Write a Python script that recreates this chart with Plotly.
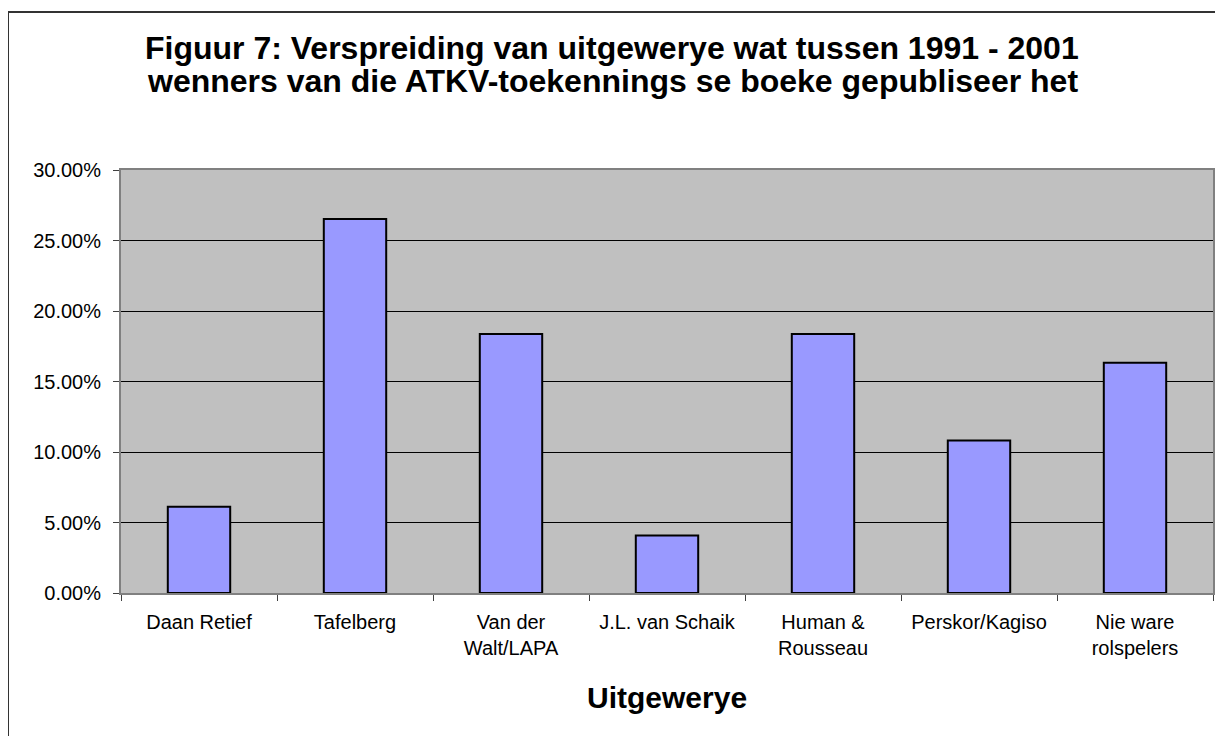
import plotly.graph_objects as go

categories = ["Daan Retief", "Tafelberg", "Van der<br>Walt/LAPA", "J.L. van Schaik",
              "Human &<br>Rousseau", "Perskor/Kagiso", "Nie ware<br>rolspelers"]
values = [0.0612, 0.2653, 0.1837, 0.0408, 0.1837, 0.1082, 0.1633]
tick_vals = [0, 0.05, 0.10, 0.15, 0.20, 0.25, 0.30]
tick_text = ["0.00%", "5.00%", "10.00%", "15.00%", "20.00%", "25.00%", "30.00%"]

title_lines = ["Figuur 7: Verspreiding van uitgewerye wat tussen 1991 - 2001",
               "wenners van die ATKV-toekennings se boeke gepubliseer het"]
x_title = "Uitgewerye"

FONT = "Liberation Sans, Arial, sans-serif"

fig = go.Figure(go.Bar(
    x=categories, y=values,
    marker=dict(color="#9999FF", line=dict(color="black", width=2)),
    width=0.4,
))

W, H = 1223, 736
L, R, T, B = 113, 18, 162, 151
PW, PH = W - L - R, H - T - B


def py(fy):
    """figure pixel y (from top) -> paper y"""
    return 1 + (T - fy) / PH


def px(fx):
    """figure pixel x (from left) -> paper x"""
    return (fx - L) / PW


annotations = []
for txt, fy in zip(title_lines, [40, 73]):
    annotations.append(dict(text="<b>%s</b>" % txt, xref="paper", yref="paper",
                            x=px(604), y=py(fy), xanchor="center", yanchor="middle",
                            showarrow=False, font=dict(size=32, family=FONT, color="black")))
annotations.append(dict(text="<b>%s</b>" % x_title, xref="paper", yref="paper",
                        x=0.5, y=py(689), xanchor="center", yanchor="middle",
                        showarrow=False, font=dict(size=30, family=FONT, color="black")))

fig.update_layout(
    width=W, height=H,
    margin=dict(l=L, r=R, t=T, b=B),
    paper_bgcolor="white",
    plot_bgcolor="#C0C0C0",
    showlegend=False,
    font=dict(family=FONT, color="black"),
    annotations=annotations,
    xaxis=dict(
        tickfont=dict(size=20),
        ticks="outside", ticklen=6, tickcolor="#404040", tickson="boundaries",
        ticklabelstandoff=10,
        showline=True, linecolor="#808080", linewidth=2, mirror=True,
        showgrid=False,
    ),
    yaxis=dict(
        range=[0, 0.30],
        tickvals=tick_vals, ticktext=tick_text,
        tickfont=dict(size=20),
        ticks="outside", ticklen=6, tickcolor="#404040",
        ticklabelstandoff=8,
        showline=True, linecolor="#808080", linewidth=2, mirror=True,
        showgrid=True, gridcolor="black", gridwidth=1,
        zeroline=False,
    ),
    shapes=[dict(type="rect", xref="paper", yref="paper",
                 x0=px(0), x1=px(W + 20),
                 y0=-(B + 20) / PH, y1=py(4),
                 line=dict(color="#333333", width=2), layer="below")],
)

fig.write_html("out.html")
